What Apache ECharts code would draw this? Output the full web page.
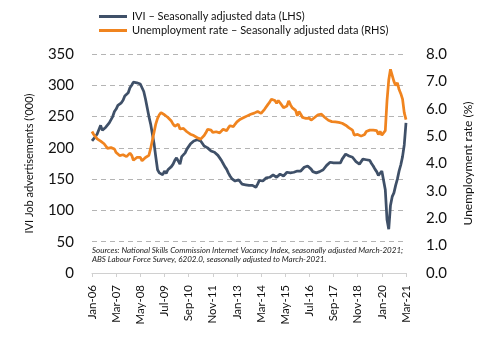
<!DOCTYPE html>
<html>
<head>
<meta charset="utf-8">
<script src="https://cdn.jsdelivr.net/npm/echarts@6/dist/echarts.min.js"></script>
<style>
html,body{margin:0;padding:0;background:#fff;}
#chart{width:482px;height:358px;}
</style>
</head>
<body>
<div id="chart"></div>
<script>
// Months Jan-06 .. Mar-21
const monthNames = ['Jan','Feb','Mar','Apr','May','Jun','Jul','Aug','Sep','Oct','Nov','Dec'];
const startYear = 2006, endYear = 2021, endMonthCount = 3;

// IVI job advertisements ('000), seasonally adjusted (LHS)
const ivi = [
  211, 214, 218, 222, 219, 236, 228, 230, 233, 232, 240, 243, // 2006
  250, 258, 262, 268, 270, 272, 276, 283, 285, 288, 296, 300, // 2007
  305, 306, 304, 305, 302, 296, 290, 278, 264, 250, 238, 222, // 2008
  206, 185, 165, 160, 162, 157, 163, 159, 165, 166, 170, 174, // 2009
  180, 184, 186, 174, 186, 187, 192, 198, 202, 206, 209, 211, // 2010
  212, 213, 214, 211, 208, 203, 201, 200, 197, 195, 194, 193, // 2011
  192, 188, 184, 180, 175, 170, 166, 160, 155, 151, 148, 147, // 2012
  148, 149, 146, 142, 139, 141, 139, 140, 141, 140, 141, 137, // 2013
  142, 148, 146, 147, 146, 152, 155, 153, 153, 157, 155, 153, // 2014
  156, 158, 156, 155, 158, 161, 159, 160, 162, 161, 162, 163, // 2015
  162, 163, 166, 169, 170, 171, 168, 166, 162, 161, 160, 161, // 2016
  162, 163, 165, 167, 172, 174, 177, 176, 176, 177, 176, 177, // 2017
  176, 182, 186, 190, 188, 187, 186, 185, 184, 178, 176, 174, // 2018
  178, 182, 181, 181, 181, 180, 175, 171, 166, 162, 156, 158, // 2019
  163, 160, 133, 85, 70, 108, 122, 128, 140, 150, 163, 173,   // 2020
  186, 205, 240                                               // 2021
];

// Unemployment rate (%), seasonally adjusted (RHS)
const unemployment = [
  5.17, 5.06, 4.98, 4.90, 4.86, 4.82, 4.78, 4.72, 4.66, 4.55, 4.52, 4.58, // 2006
  4.52, 4.53, 4.40, 4.34, 4.29, 4.28, 4.32, 4.34, 4.25, 4.22, 4.38, 4.30, // 2007
  4.12, 4.18, 4.22, 4.20, 4.22, 4.10, 4.04, 4.22, 4.24, 4.30, 4.55, 4.85, // 2008
  5.15, 5.45, 5.65, 5.78, 5.86, 5.82, 5.78, 5.72, 5.68, 5.62, 5.55, 5.44, // 2009
  5.36, 5.33, 5.44, 5.26, 5.19, 5.28, 5.30, 5.16, 5.12, 5.07, 5.05, 5.02, // 2010
  4.98, 4.94, 4.92, 4.89, 4.95, 5.02, 5.12, 5.25, 5.18, 5.22, 5.14, 5.18, // 2011
  5.16, 5.20, 5.12, 5.16, 5.25, 5.22, 5.20, 5.30, 5.38, 5.33, 5.35, 5.44, // 2012
  5.52, 5.58, 5.62, 5.66, 5.68, 5.72, 5.74, 5.78, 5.80, 5.76, 5.84, 5.86, // 2013
  5.90, 5.92, 5.83, 5.88, 5.98, 6.04, 6.16, 6.24, 6.35, 6.40, 6.30, 6.20, // 2014
  6.30, 6.22, 6.16, 6.04, 5.98, 6.10, 6.29, 6.15, 6.04, 5.98, 5.94, 5.74, // 2015
  5.90, 5.80, 5.68, 5.70, 5.65, 5.68, 5.66, 5.58, 5.62, 5.68, 5.74, 5.78, // 2016
  5.78, 5.80, 5.74, 5.68, 5.62, 5.58, 5.56, 5.53, 5.49, 5.52, 5.56, 5.50, // 2017
  5.44, 5.47, 5.49, 5.40, 5.33, 5.30, 5.28, 5.22, 5.04, 5.10, 5.06, 5.04, // 2018
  5.00, 4.95, 5.06, 5.17, 5.20, 5.22, 5.20, 5.22, 5.24, 5.20, 5.06, 5.17, // 2019
  5.04, 5.12, 5.20, 6.30, 7.05, 7.44, 7.50, 7.00, 6.85, 6.95, 6.70, 6.55, // 2020
  6.35, 5.85, 5.60                                                        // 2021
];

const leftTicks = {min: 0, max: 350, interval: 50};
const rightTicks = {min: 0, max: 8, interval: 1};
const seriesNames = ['IVI \u2013 Seasonally adjusted data (LHS)', 'Unemployment rate \u2013 Seasonally adjusted data (RHS)'];
const leftTitle = "IVI Job advertisements ('000)";
const rightTitle = 'Unemployment rate (%)';
const sourceLines = [
  'Sources: National Skills Commission Internet Vacancy Index, seasonally adjusted March-2021;',
  'ABS Labour Force Survey, 6202.0, seasonally adjusted to March-2021.'
];

const categories = [];
for (let y = startYear; y <= endYear; y++) {
  const n = (y === endYear) ? endMonthCount : 12;
  for (let m = 0; m < n; m++) categories.push(monthNames[m] + '-' + String(y).slice(2));
}

const FONT = 'Lato, "Noto Sans", sans-serif';
const chart = echarts.init(document.getElementById('chart'), null, {renderer: 'canvas'});
chart.setOption({
  animation: false,
  backgroundColor: '#fff',
  textStyle: {fontFamily: FONT},
  grid: {left: 92, right: 70, top: 54, bottom: 85},
  legend: {
    orient: 'vertical', left: 94, top: 6,
    itemWidth: 28, itemHeight: 3, itemGap: 3,
    icon: 'rect',
    textStyle: {fontSize: 11, fontFamily: FONT, color: '#111'},
    data: seriesNames
  },
  xAxis: {
    type: 'category', data: categories, boundaryGap: false,
    axisLine: {lineStyle: {color: '#d0d0d0', width: 1}},
    axisTick: {show: true, interval: 13, length: 4, lineStyle: {color: '#d0d0d0'}},
    axisLabel: {interval: 13, rotate: 90, fontSize: 11.5, color: '#111', margin: 12, fontFamily: FONT},
    splitLine: {show: false}
  },
  yAxis: [
    {
      type: 'value', min: leftTicks.min, max: leftTicks.max, interval: leftTicks.interval,
      name: leftTitle, nameLocation: 'middle', nameRotate: 90, nameGap: 57,
      nameTextStyle: {fontSize: 11, color: '#111', fontFamily: FONT},
      axisLine: {show: false}, axisTick: {show: false},
      axisLabel: {fontSize: 15, color: '#111', margin: 18, fontFamily: FONT},
      splitLine: {show: true, lineStyle: {color: '#b4b4b4', type: [5, 4], width: 1}}
    },
    {
      type: 'value', min: rightTicks.min, max: rightTicks.max, interval: rightTicks.interval,
      name: rightTitle, nameLocation: 'middle', nameRotate: 90, nameGap: 56,
      nameTextStyle: {fontSize: 12, color: '#111', fontFamily: FONT},
      axisLine: {show: false}, axisTick: {show: false},
      axisLabel: {fontSize: 15, color: '#111', margin: 20, fontFamily: FONT, formatter: v => v.toFixed(1)},
      splitLine: {show: false}
    }
  ],
  graphic: [
    {
      type: 'text', left: 92, top: 246, z: 10,
      style: {
        text: sourceLines.join('\n'), fontSize: 8, fontStyle: 'italic', fontFamily: FONT,
        fill: '#222', lineHeight: 8.8
      }
    }
  ],
  series: [
    {
      name: seriesNames[0], type: 'line', yAxisIndex: 0, data: ivi,
      showSymbol: false, symbol: 'none', z: 2,
      lineStyle: {color: '#3f5068', width: 2.75}, itemStyle: {color: '#3f5068'}
    },
    {
      name: seriesNames[1], type: 'line', yAxisIndex: 1, data: unemployment,
      showSymbol: false, symbol: 'none', z: 3,
      lineStyle: {color: '#f0841f', width: 2.75}, itemStyle: {color: '#f0841f'}
    }
  ]
});
</script>
</body>
</html>
